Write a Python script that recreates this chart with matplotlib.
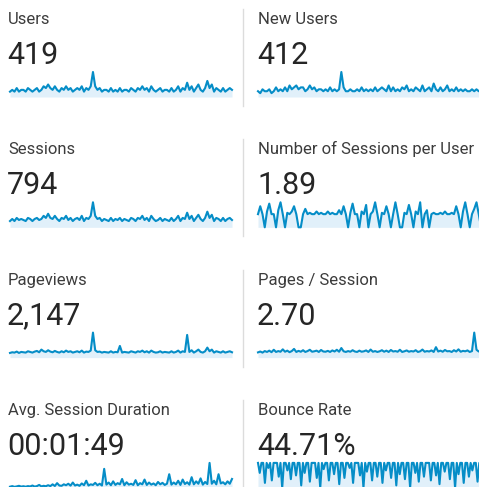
import matplotlib
matplotlib.use("Agg")
import matplotlib.pyplot as plt

# ---------------- data ----------------
labels = ["Users", "New Users", "Sessions", "Number of Sessions per User",
          "Pageviews", "Pages / Session", "Avg. Session Duration", "Bounce Rate"]
totals = ["419", "412", "794", "1.89", "2,147", "2.70", "00:01:49", "44.71%"]

users = [3, 4, 3, 5, 3, 4, 4, 3, 5, 4,
         3, 4, 5, 3, 4, 6, 5, 7, 5, 4,
         6, 4, 3, 5, 4, 6, 4, 5, 3, 4,
         5, 4, 6, 3, 5, 4, 6, 14, 6, 4,
         5, 3, 4, 4, 3, 5, 3, 4, 3, 5,
         3, 4, 4, 3, 5, 4, 3, 5, 4, 6,
         4, 5, 3, 6, 4, 3, 4, 5, 3, 4,
         4, 3, 5, 3, 4, 6, 3, 5, 4, 8,
         4, 6, 3, 5, 7, 4, 3, 5, 9, 5,
         7, 3, 5, 4, 3, 5, 3, 4, 5, 4]

new_users = [3, 2, 4, 3, 3, 4, 2, 3, 5, 3,
             4, 3, 5, 3, 6, 4, 5, 6, 4, 5,
             5, 3, 4, 6, 4, 5, 3, 4, 4, 3,
             4, 3, 5, 3, 4, 3, 4, 13, 5, 3,
             3, 4, 3, 3, 4, 3, 5, 3, 4, 3,
             4, 3, 5, 3, 4, 5, 4, 3, 6, 3,
             5, 3, 4, 3, 5, 4, 6, 3, 4, 3,
             5, 4, 3, 6, 3, 4, 5, 3, 7, 4,
             3, 5, 3, 4, 6, 3, 4, 3, 5, 3,
             4, 3, 4, 3, 3, 4, 3, 4, 3, 4]

sessions = [6, 8, 6, 9, 7, 8, 7, 6, 9, 8,
            6, 8, 9, 7, 8, 11, 9, 13, 9, 8,
            11, 8, 6, 9, 8, 11, 7, 9, 6, 8,
            9, 7, 11, 6, 9, 8, 11, 24, 11, 8,
            9, 6, 8, 7, 6, 9, 6, 8, 7, 9,
            6, 8, 7, 6, 9, 8, 6, 9, 8, 11,
            7, 9, 6, 11, 8, 6, 7, 9, 6, 8,
            7, 6, 9, 6, 8, 11, 6, 9, 8, 14,
            8, 11, 6, 9, 12, 8, 6, 9, 15, 9,
            12, 6, 9, 8, 6, 9, 6, 8, 9, 7]

sessions_per_user = [1.0, 1.6, 1.0, 0.0, 1.2, 1.8, 1.0, 1.0, 0.0, 1.3,
                     1.9, 1.0, 0.0, 1.1, 1.0, 1.2, 1.6, 1.0, 0.0, 0.0,
                     1.0, 1.4, 1.0, 1.1, 1.0, 1.0, 1.2, 1.0, 1.1, 1.0,
                     1.0, 1.2, 1.0, 1.1, 1.0, 1.0, 1.3, 1.0, 1.6, 1.0,
                     0.0, 1.1, 1.8, 1.0, 1.0, 0.0, 1.2, 1.0, 1.7, 0.0,
                     1.0, 1.2, 1.9, 1.0, 0.0, 1.1, 1.0, 1.6, 1.0, 0.0,
                     1.0, 1.9, 1.0, 0.0, 0.0, 1.1, 1.0, 1.7, 1.0, 0.0,
                     1.2, 1.0, 1.9, 0.0, 1.0, 1.3, 0.0, 1.0, 1.1, 1.0,
                     1.0, 1.1, 1.0, 1.2, 1.0, 1.0, 1.1, 1.0, 1.6, 1.0,
                     0.0, 1.2, 1.9, 1.0, 0.0, 1.0, 1.4, 1.9, 1.0, 0.0]

pageviews = [14, 16, 15, 18, 14, 17, 16, 15, 19, 17,
             15, 18, 20, 16, 24, 19, 17, 22, 18, 16,
             20, 17, 15, 19, 16, 21, 17, 19, 15, 17,
             19, 16, 21, 15, 18, 17, 21, 75, 22, 17,
             18, 15, 17, 16, 15, 19, 15, 17, 16, 35,
             15, 17, 16, 15, 19, 17, 15, 19, 17, 21,
             16, 19, 15, 21, 17, 15, 16, 19, 15, 17,
             16, 15, 19, 15, 17, 21, 15, 19, 17, 68,
             17, 22, 15, 19, 24, 17, 15, 19, 30, 19,
             24, 15, 19, 17, 15, 19, 15, 17, 19, 16]

pages_per_session = [2.4, 2.8, 2.3, 3.0, 2.6, 3.2, 2.5, 3.6, 2.6, 3.0,
                     2.7, 3.8, 2.7, 3.2, 2.5, 3.0, 4.0, 2.6, 3.1, 2.7,
                     3.4, 2.6, 3.0, 3.6, 2.7, 2.9, 3.2, 2.6, 3.5, 2.8,
                     2.7, 3.1, 2.6, 3.3, 2.8, 3.6, 2.7, 4.4, 2.9, 2.6,
                     3.0, 2.7, 3.4, 2.8, 2.6, 3.2, 2.7, 2.9, 3.3, 2.6,
                     3.7, 2.7, 3.0, 2.6, 2.9, 3.4, 2.7, 3.2, 2.6, 3.5,
                     2.8, 3.0, 2.7, 3.6, 2.6, 2.9, 3.3, 2.7, 3.0, 2.8,
                     3.4, 2.6, 2.9, 3.7, 2.7, 3.0, 2.8, 3.3, 2.6, 4.8,
                     2.8, 3.2, 2.7, 3.5, 2.9, 3.0, 2.6, 3.4, 2.8, 3.8,
                     2.7, 3.1, 2.9, 3.3, 2.6, 3.0, 11.5, 3.6, 2.8, 3.0]

avg_session_duration = [20, 30, 18, 25, 35, 22, 28, 20, 30, 24,
                        40, 22, 30, 50, 25, 35, 28, 45, 30, 60,
                        32, 80, 40, 35, 60, 45, 70, 38, 90, 40,
                        55, 35, 75, 45, 120, 40, 60, 50, 85, 45,
                        70, 40, 320, 55, 90, 45, 110, 50, 80, 60,
                        150, 45, 95, 55, 70, 50, 130, 45, 80, 60,
                        140, 50, 90, 55, 75, 45, 100, 60, 85, 50,
                        70, 230, 55, 90, 60, 120, 50, 140, 65, 95,
                        55, 180, 60, 110, 70, 160, 55, 100, 65, 420,
                        70, 120, 60, 230, 75, 95, 60, 110, 70, 150]

bounce_rate = [100, 60, 100, 100, 20, 100, 80, 100, 30, 100,
               100, 100, 45, 100, 0, 100, 100, 70, 100, 35,
               100, 100, 50, 100, 100, 10, 100, 60, 100, 100,
               25, 100, 100, 100, 40, 100, 0, 100, 75, 100,
               100, 30, 100, 100, 55, 100, 100, 15, 100, 100,
               40, 100, 100, 80, 100, 20, 100, 100, 100, 50,
               100, 0, 100, 65, 100, 100, 30, 100, 100, 45,
               100, 100, 20, 100, 70, 100, 100, 40, 100, 100,
               10, 100, 55, 100, 100, 35, 100, 100, 0, 100,
               100, 60, 100, 25, 100, 100, 45, 100, 100, 100,
               30, 100, 100, 50, 100, 15, 100, 100, 65, 100,
               100, 35, 100, 100, 0, 100, 55, 100, 100, 20,
               100, 100, 45, 100, 70, 100, 100, 25, 100, 100]

series = [users, new_users, sessions, sessions_per_user,
          pageviews, pages_per_session, avg_session_duration, bounce_rate]

# ---------------- layout ----------------
W, H = 479, 487
fig = plt.figure(figsize=(W / 100, H / 100), dpi=100)
fig.patch.set_facecolor("white")

LINE = "#058dc7"
FILL = "#e1f0fa"
ROW = 130.3

def fx(x):
    return x / W

def fy(y):
    return 1 - y / H

for i, (lab, tot, data) in enumerate(zip(labels, totals, series)):
    row, col = divmod(i, 2)
    off = row * ROW
    tx = 8 if col == 0 else 258
    sx0, sx1 = (10, 232) if col == 0 else (258, 481)
    fig.text(fx(tx), fy(24 + off), lab, fontsize=12, family="Roboto",
             color="#3c3c3c", va="baseline", ha="left")
    fig.text(fx(tx - 1), fy(64 + off), tot, fontsize=22, family="Roboto",
             color="#262626", va="baseline", ha="left")
    bottom = 97 + off
    ax = fig.add_axes([fx(sx0), fy(bottom), (sx1 - sx0) / W, 25 / H])
    ax.axis("off")
    xs = list(range(len(data)))
    ax.fill_between(xs, data, 0, color=FILL, lw=0)
    ax.plot(xs, data, color=LINE, lw=1.5, clip_on=False, solid_joinstyle="round")
    ax.set_xlim(0, len(data) - 1)
    ax.set_ylim(0, max(data))

# vertical dividers
for row in range(4):
    off = row * ROW
    y0, y1 = 9 + off, min(106 + off, H)
    fig.add_artist(plt.Line2D([fx(243), fx(243)], [fy(y0), fy(y1)],
                              color="#dcdcdc", lw=1))

fig.savefig("out.png", dpi=100)
